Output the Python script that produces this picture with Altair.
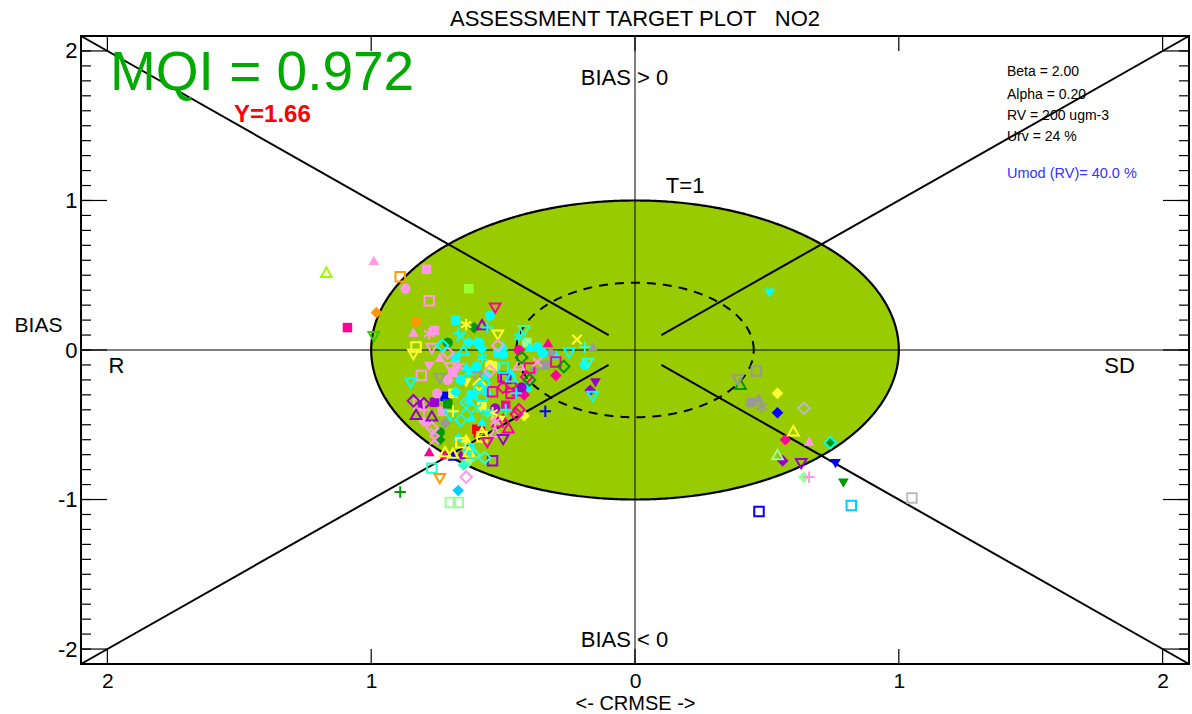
import altair as alt
import numpy as np
import pandas as pd

FONT = "Liberation Sans"

# ---- station results: (CRMSE, BIAS, colour) per marker style ----
COLOURS = {
    "cyan": "#00FFFF", "pink": "#FF99E6", "magenta": "#FF0099", "yellow": "#FFFF33",
    "green": "#009900", "lime": "#99FF33", "chartreuse": "#99FF00", "leaf": "#33CC00",
    "mint": "#99FF99", "aqua": "#33FFCC", "orange": "#FF9900", "purple": "#9900CC",
    "grey": "#999999", "silver": "#BBBBBB", "blue": "#0000FF", "red": "#FF0000",
    "sky": "#00CCFF",
}

square_filled = [
    (-1.09, 0.15, "magenta"), (-0.79, 0.54, "pink"), (-0.63, 0.41, "lime"),
    (-0.83, 0.19, "orange"), (-0.76, 0.13, "pink"), (-0.68, 0.20, "cyan"),
    (-0.41, 0.05, "mint"), (-0.34, -0.10, "grey"), (-0.76, -0.35, "purple"),
    (-0.72, -0.31, "blue"), (-0.69, -0.29, "yellow"), (-0.73, -0.41, "pink"),
    (-0.58, -0.38, "yellow"), (-0.62, -0.30, "cyan"), (-0.69, -0.15, "pink"),
    (-0.41, -0.25, "cyan"), (-0.71, -0.36, "green"), (-0.49, -0.37, "magenta"),
    (-0.52, -0.02, "cyan"), (-0.45, -0.28, "magenta"), (-0.68, -0.05, "cyan"),
    (-0.60, -0.53, "red"), (0.44, -0.35, "grey"),
]
square_open = [
    (-0.89, 0.49, "orange"), (-0.78, 0.33, "pink"), (-0.83, 0.02, "yellow"),
    (-0.81, -0.17, "pink"), (-0.30, -0.08, "magenta"), (-0.50, -0.18, "magenta"),
    (-0.47, -0.25, "magenta"), (-0.49, -0.19, "purple"), (-0.47, -0.29, "magenta"),
    (-0.63, -0.66, "cyan"), (-0.58, -0.31, "cyan"), (-0.59, -0.55, "red"),
    (-0.58, -0.58, "yellow"), (-0.77, -0.79, "aqua"), (-0.54, -0.74, "purple"),
    (-0.70, -1.02, "mint"), (-0.67, -1.02, "mint"), (-0.40, -0.12, "magenta"),
    (-0.50, -0.12, "cyan"), (-0.82, -0.36, "pink"), (-0.66, -0.62, "yellow"),
    (-0.54, -0.28, "magenta"), (0.46, -0.14, "grey"),
    (0.47, -1.08, "blue"), (0.82, -1.04, "sky"), (1.05, -0.99, "silver"),
]
tri_up_filled = [
    (-0.99, 0.60, "pink"), (-0.84, 0.12, "pink"), (-0.74, -0.05, "pink"),
    (-0.33, 0.05, "magenta"), (-0.30, -0.03, "cyan"), (-0.16, 0.02, "grey"),
    (-0.50, 0.03, "cyan"), (-0.47, -0.15, "cyan"), (-0.64, -0.11, "cyan"),
    (-0.61, -0.11, "cyan"), (-0.56, -0.27, "cyan"), (-0.67, -0.58, "cyan"),
    (-0.63, -0.33, "cyan"), (-0.64, -0.59, "yellow"), (-0.72, -0.70, "magenta"),
    (-0.69, -0.15, "pink"), (-0.81, -0.37, "purple"), (-0.62, -0.45, "cyan"),
    (-0.40, 0.02, "cyan"), (-0.62, -0.66, "cyan"), (-0.66, -0.70, "purple"),
    (-0.69, -0.71, "blue"), (-0.50, -0.45, "magenta"), (-0.58, -0.48, "cyan"),
    (-0.78, -0.68, "magenta"), (0.47, -0.32, "grey"), (0.66, -0.61, "pink"),
]
tri_up_open = [
    (-1.17, 0.52, "chartreuse"), (-0.58, 0.17, "purple"), (-0.65, 0.00, "cyan"),
    (-0.44, -0.10, "pink"), (-0.77, -0.44, "purple"), (-0.52, -0.48, "magenta"),
    (-0.69, -0.69, "yellow"), (-0.47, -0.18, "cyan"), (-0.58, -0.55, "yellow"),
    (-0.48, -0.52, "magenta"), (-0.83, -0.43, "purple"), (-0.63, -0.68, "yellow"),
    (-0.53, -0.55, "pink"), (-0.72, -0.68, "yellow"),
    (0.40, -0.23, "green"), (0.60, -0.54, "yellow"), (0.54, -0.70, "mint"),
]
tri_down_filled = [
    (-0.78, -0.11, "pink"), (-0.38, -0.15, "grey"), (-0.64, -0.22, "yellow"),
    (-0.15, -0.22, "purple"), (-0.63, -0.76, "mint"), (-0.51, -0.47, "yellow"),
    (0.51, 0.38, "cyan"), (0.76, -0.76, "blue"), (0.79, -0.89, "green"),
]
tri_down_open = [
    (-0.99, 0.09, "leaf"), (-0.53, 0.28, "magenta"), (-0.52, 0.10, "yellow"),
    (-0.42, 0.13, "aqua"), (-0.84, -0.03, "yellow"), (-0.77, 0.01, "pink"),
    (-0.25, -0.02, "cyan"), (-0.18, -0.09, "aqua"), (-0.85, -0.22, "cyan"),
    (-0.74, -0.19, "grey"), (-0.50, -0.60, "purple"), (-0.74, -0.86, "orange"),
    (-0.16, -0.31, "cyan"), (-0.70, -0.44, "cyan"), (-0.70, -0.12, "pink"),
    (-0.60, -0.18, "grey"), (-0.56, -0.62, "magenta"),
    (0.39, -0.20, "grey"), (0.63, -0.76, "purple"),
]
diamond_filled = [
    (-0.98, 0.25, "orange"), (-0.61, 0.15, "green"), (-0.63, 0.05, "cyan"),
    (-0.60, 0.05, "cyan"), (-0.58, 0.01, "cyan"), (-0.32, -0.02, "grey"),
    (-0.30, -0.17, "magenta"), (-0.42, -0.44, "yellow"), (-0.67, -0.94, "sky"),
    (-0.65, -0.77, "aqua"), (-0.17, -0.27, "purple"), (-0.68, -0.28, "cyan"),
    (-0.72, -0.49, "grey"), (-0.56, -0.17, "cyan"), (-0.42, -0.30, "magenta"),
    (-0.75, -0.55, "grey"), (-0.74, -0.60, "green"), (-0.80, -0.48, "pink"),
    (0.54, -0.29, "yellow"), (0.54, -0.42, "blue"),
    (0.57, -0.60, "magenta"), (0.56, -0.74, "purple"), (0.64, -0.85, "mint"),
]
diamond_open = [
    (-0.71, -0.02, "pink"), (-0.73, 0.03, "cyan"), (-0.52, 0.03, "pink"),
    (-0.59, -0.23, "yellow"), (-0.41, -0.18, "magenta"), (-0.40, -0.20, "green"),
    (-0.27, -0.11, "green"), (-0.44, -0.40, "magenta"), (-0.50, -0.25, "magenta"),
    (-0.64, -0.35, "cyan"), (-0.80, -0.36, "purple"), (-0.77, -0.52, "pink"),
    (-0.61, -0.70, "aqua"), (-0.64, -0.85, "pink"), (-0.59, -0.25, "cyan"),
    (-0.66, -0.47, "cyan"), (-0.55, -0.14, "pink"), (-0.45, -0.43, "magenta"),
    (-0.43, -0.05, "green"), (-0.84, -0.34, "purple"), (-0.57, -0.22, "cyan"),
    (-0.57, -0.72, "aqua"),
    (0.64, -0.39, "silver"), (0.74, -0.62, "cyan"),
]
circle_filled = [
    (-0.87, 0.41, "pink"), (-0.55, 0.23, "cyan"), (-0.71, 0.05, "green"),
    (-0.44, 0.00, "magenta"), (-0.35, -0.02, "cyan"), (-0.19, -0.10, "cyan"),
    (-0.50, -0.03, "cyan"), (-0.59, 0.05, "cyan"), (-0.53, -0.11, "yellow"),
    (-0.60, -0.11, "cyan"), (-0.43, -0.25, "purple"), (-0.75, -0.29, "pink"),
    (-0.74, -0.55, "green"), (-0.37, 0.02, "cyan"), (-0.53, -0.39, "purple"),
    (-0.66, -0.20, "cyan"), (-0.55, -0.10, "yellow"), (-0.71, -0.20, "pink"),
    (0.74, -0.62, "green"),
]
plus_marks = [
    (-0.56, 0.15, "cyan"), (-0.67, 0.11, "cyan"), (-0.19, 0.02, "aqua"),
    (-0.80, -0.40, "pink"), (-0.69, -0.41, "yellow"), (-0.45, -0.29, "cyan"),
    (-0.49, -0.40, "cyan"), (-0.34, -0.41, "blue"), (-0.89, -0.95, "green"),
    (0.66, -0.85, "pink"),
]
cross_marks = [
    (-0.66, 0.09, "cyan"), (-0.22, 0.07, "yellow"), (-0.37, -0.08, "pink"),
    (-0.64, -0.39, "cyan"), (-0.76, -0.55, "pink"), (-0.60, -0.39, "cyan"),
    (-0.76, -0.60, "pink"),
]
star_marks = [
    (-0.64, 0.17, "yellow"), (-0.78, 0.11, "pink"), (-0.44, 0.09, "cyan"),
    (-0.58, -0.05, "cyan"), (-0.67, -0.11, "pink"), (-0.54, -0.42, "yellow"),
    (-0.56, -0.42, "cyan"), (-0.63, -0.15, "cyan"), (-0.53, -0.48, "pink"),
    (0.48, -0.38, "grey"),
]

# ---- annotation text ----
TITLE = "ASSESSMENT TARGET PLOT\u00a0\u00a0\u00a0NO2"
MQI_TEXT = "MQI = 0.972"
Y_TEXT = "Y=1.66"
INFO_LINES = ["Beta = 2.00", "Alpha = 0.20", "RV = 200 ugm-3", "Urv = 24 %"]
UMOD_TEXT = "Umod (RV)= 40.0 %"
TARGET_RADIUS = 1.0
INNER_RADIUS = 0.45
LIM = 2.1

# ---- marker symbols ----
SYMBOLS = {
    "square": ("square", 90), "tri_up": ("triangle-up", 115),
    "tri_down": ("triangle-down", 115), "diamond": ("diamond", 135),
    "circle": ("circle", 105),
    "plus": ("M-1,0H1M0,-1V1", 130),
    "cross": ("M-1,-1L1,1M-1,1L1,-1", 90),
    "star": ("M0,-1V1M-0.87,-0.5L0.87,0.5M-0.87,0.5L0.87,-0.5", 140),
}


def frame(rows, symbol):
    shape, size = SYMBOLS[symbol]
    return pd.DataFrame({
        "crmse": [r[0] for r in rows],
        "bias": [r[1] for r in rows],
        "colour": [COLOURS[r[2]] for r in rows],
        "shape": shape,
        "size": size,
    })


filled_df = pd.concat([
    frame(square_filled, "square"), frame(tri_up_filled, "tri_up"),
    frame(tri_down_filled, "tri_down"), frame(diamond_filled, "diamond"),
    frame(circle_filled, "circle"),
], ignore_index=True)
open_df = pd.concat([
    frame(square_open, "square"), frame(tri_up_open, "tri_up"),
    frame(tri_down_open, "tri_down"), frame(diamond_open, "diamond"),
    frame(plus_marks, "plus"), frame(cross_marks, "cross"), frame(star_marks, "star"),
], ignore_index=True)

# ---- scales and axes ----
XS = alt.Scale(domain=[-LIM, LIM], nice=False, zero=False)
YS = alt.Scale(domain=[-LIM, LIM], nice=False, zero=False)
X_AXIS = alt.Axis(
    values=[-2, -1, 0, 1, 2], labelExpr="'' + abs(datum.value)", ticks=False,
    domain=False, grid=False, labelFont=FONT, labelFontSize=21, labelColor="black",
    labelPadding=6, title="<- CRMSE ->", titleFont=FONT, titleFontSize=20,
    titleFontWeight="normal", titleColor="black", titlePadding=2,
)
Y_AXIS = alt.Axis(
    values=[-2, -1, 0, 1, 2], labelExpr="'' + datum.value", ticks=False,
    domain=False, grid=False, labelFont=FONT, labelFontSize=22, labelColor="black",
    labelPadding=4, title="BIAS", titleAngle=0, titleX=-43, titleY=289,
    titleAlign="center", titleBaseline="middle", titleFont=FONT, titleFontSize=21,
    titleFontWeight="normal", titleColor="black",
)


def X(field):
    return alt.X(f"{field}:Q", scale=XS, axis=X_AXIS)


def Y(field):
    return alt.Y(f"{field}:Q", scale=YS, axis=Y_AXIS)


W, H = 1108, 628

# target circle (radius 1) and inner dashed circle
t_half = np.linspace(0, np.pi, 361)
target_fill = pd.DataFrame({
    "x": TARGET_RADIUS * np.cos(t_half),
    "top": TARGET_RADIUS * np.sin(t_half),
    "bot": -TARGET_RADIUS * np.sin(t_half),
})
t_full = np.linspace(0, 2 * np.pi, 721)
target_ring = pd.DataFrame({"i": np.arange(t_full.size),
                            "x": TARGET_RADIUS * np.cos(t_full),
                            "y": TARGET_RADIUS * np.sin(t_full)})
inner_ring = pd.DataFrame({"i": np.arange(t_full.size),
                           "x": INNER_RADIUS * np.cos(t_full),
                           "y": INNER_RADIUS * np.sin(t_full)})

area = alt.Chart(target_fill).mark_area(color="#99CC00", opacity=1).encode(
    x=X("x"), y=Y("top"), y2="bot:Q")
ring = alt.Chart(target_ring).mark_line(color="black", strokeWidth=2.2).encode(
    x=X("x"), y=Y("y"), order="i:Q")
inner = alt.Chart(inner_ring).mark_line(color="black", strokeWidth=2,
                                        strokeDash=[9, 7]).encode(
    x=X("x"), y=Y("y"), order="i:Q")

# diagonal guide lines from the corners, stopping short of the centre
gap = 0.1
diag = pd.DataFrame({
    "x": [-LIM, LIM, -LIM, LIM], "y": [LIM, LIM, -LIM, -LIM],
    "x2": [-gap, gap, -gap, gap], "y2": [gap, gap, -gap, -gap],
})
diagonals = alt.Chart(diag).mark_rule(color="black", strokeWidth=2).encode(
    x=X("x"), y=Y("y"), x2="x2:Q", y2="y2:Q")

zero = pd.DataFrame({"v": [0.0]})
vline = alt.Chart(zero).mark_rule(color="black", strokeWidth=1).encode(x=X("v"))
hline = alt.Chart(zero).mark_rule(color="black", strokeWidth=1).encode(y=Y("v"))

# inward tick marks on all four sides
minor = pd.DataFrame({"v": np.round(np.arange(-21, 22) / 10, 1)})
major = pd.DataFrame({"v": [-2.0, -1.0, 0.0, 1.0, 2.0]})
tick_style = dict(color="black", strokeWidth=1.2)
ticks = [
    alt.Chart(minor).mark_rule(**tick_style).encode(y=Y("v"), x=alt.value(0), x2=alt.value(10)),
    alt.Chart(minor).mark_rule(**tick_style).encode(y=Y("v"), x=alt.value(W), x2=alt.value(W - 10)),
    alt.Chart(major).mark_rule(**tick_style).encode(y=Y("v"), x=alt.value(0), x2=alt.value(26)),
    alt.Chart(major).mark_rule(**tick_style).encode(y=Y("v"), x=alt.value(W), x2=alt.value(W - 26)),
    alt.Chart(major).mark_rule(**tick_style).encode(x=X("v"), y=alt.value(0), y2=alt.value(15)),
    alt.Chart(major).mark_rule(**tick_style).encode(x=X("v"), y=alt.value(H), y2=alt.value(H - 15)),
]

filled_pts = alt.Chart(filled_df).mark_point(filled=True, opacity=1).encode(
    x=X("crmse"), y=Y("bias"),
    shape=alt.Shape("shape:N", scale=None),
    size=alt.Size("size:Q", scale=None),
    color=alt.Color("colour:N", scale=None),
)
open_pts = alt.Chart(open_df).mark_point(filled=False, opacity=1, strokeWidth=2).encode(
    x=X("crmse"), y=Y("bias"),
    shape=alt.Shape("shape:N", scale=None),
    size=alt.Size("size:Q", scale=None),
    color=alt.Color("colour:N", scale=None),
)

# text annotations
labels = pd.DataFrame({
    "x": [-0.04, -0.04, -1.966, 1.837, 0.19],
    "y": [1.82, -1.94, -0.11, -0.11, 1.10],
    "t": ["BIAS > 0", "BIAS < 0", "R", "SD", "T=1"],
})
label_txt = alt.Chart(labels).mark_text(font=FONT, fontSize=22, color="black",
                                        align="center", baseline="middle").encode(
    x=X("x"), y=Y("y"), text="t:N")

mqi = alt.Chart(pd.DataFrame({"x": [-1.99], "y": [1.85], "t": [MQI_TEXT]})).mark_text(
    font=FONT, fontSize=55, color="#00AA00", align="left", baseline="middle").encode(
    x=X("x"), y=Y("y"), text="t:N")
ytxt = alt.Chart(pd.DataFrame({"x": [-1.52], "y": [1.57], "t": [Y_TEXT]})).mark_text(
    font=FONT, fontSize=24, fontWeight="bold", color="#FF0000", align="left",
    baseline="middle").encode(x=X("x"), y=Y("y"), text="t:N")

info = pd.DataFrame({"x": [1.41] * 4, "y": [1.86, 1.706, 1.565, 1.425], "t": INFO_LINES})
info_txt = alt.Chart(info).mark_text(font=FONT, fontSize=14, color="black",
                                     align="left", baseline="middle").encode(
    x=X("x"), y=Y("y"), text="t:N")
umod = alt.Chart(pd.DataFrame({"x": [1.41], "y": [1.177], "t": [UMOD_TEXT]})).mark_text(
    font=FONT, fontSize=14.5, color="#3333FF", align="left", baseline="middle").encode(
    x=X("x"), y=Y("y"), text="t:N")

chart = alt.layer(
    area, ring, inner, diagonals, vline, hline, *ticks,
    filled_pts, open_pts, label_txt, mqi, ytxt, info_txt, umod,
).properties(
    width=W, height=H,
    title=alt.TitleParams(TITLE, font=FONT, fontSize=22, fontWeight="normal",
                          color="black", anchor="middle", offset=4),
    autosize=alt.AutoSizeParams(type="none"),
    padding={"left": 81, "top": 36, "right": 3, "bottom": 50},
    background="white",
).configure_view(stroke="black", strokeWidth=2)

chart.save("out.html", embed_options={"renderer": "svg", "actions": False})
